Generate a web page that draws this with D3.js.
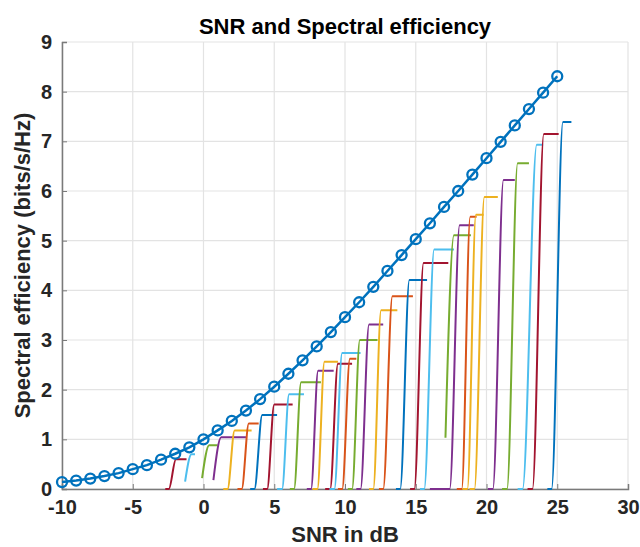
<!DOCTYPE html>
<html>
<head>
  <meta charset="UTF-8">
  <title>SNR and Spectral efficiency</title>
  <style>
  body { margin:0; background:#fff; }
  text { font-family:"Liberation Sans",Arial,sans-serif; font-weight:bold; }
  </style>
</head>
<body>
  <div id="chart"></div>
  <script src="https://d3js.org/d3.v7.min.js"></script>
  <script>
    // Shannon bound, one marker per dB
    var snrDb = [-10,-9,-8,-7,-6,-5,-4,-3,-2,-1,0,1,2,3,4,5,6,7,8,9,10,11,12,13,14,15,16,17,18,19,20,21,22,23,24,25];
    var shannon = [0.14,0.17,0.21,0.26,0.32,0.40,0.48,0.59,0.71,0.84,1.00,1.18,1.37,1.58,1.81,2.06,2.32,2.59,2.87,3.16,
                   3.46,3.76,4.07,4.39,4.71,5.03,5.35,5.68,6.00,6.33,6.66,6.99,7.32,7.65,7.98,8.31];

    // MCS throughput curves: start point, where the rise begins, where it levels off, level and end
    var mcsColor = ["red","lblue","green","purple","yellow","orange","blue","red","lblue","green","purple",
                    "yellow","red","lblue","orange","green","purple","yellow","orange","blue","red","lblue",
                    "green","purple","orange","yellow","yellow","purple","green","lblue","red","blue"];
    var mcsX0    = [-2.7,-1.3,-0.1,0.7,1.4,2.4,3.3,4.2,5.2,6.1,7.3,7.7,8.6,8.9,9.5,10.2,10.8,11.7,12.4,13.6,14.6,15.3,
                    17.1,16.0,17.9,18.3,18.8,20.1,21.1,22.2,22.9,24.3];
    var mcsY0    = [0,0.15,0.22,0.18,0,0,0,0,0,0,0,0,0,0,0,0,0,0,0,0,0,0,1.03,0,0,0,0,0,0,0,0,0];
    var mcsRise  = [-2.45,-1.3,-0.1,0.7,1.7,2.7,3.6,4.5,5.55,6.4,7.6,8.05,8.95,9.25,9.8,10.5,11.1,12.0,12.7,13.9,14.9,15.6,
                    17.1,17.4,18.25,18.65,19.15,20.45,21.45,22.55,23.25,24.6];
    var mcsKnee  = [-1.95,-0.85,0.4,1.25,2.2,3.2,4.15,5.0,6.05,6.9,8.1,8.55,9.5,9.8,10.35,11.05,11.7,12.55,13.35,14.55,15.55,16.3,
                    17.7,18.1,18.85,19.25,19.85,21.2,22.2,23.55,24.05,25.4];
    var mcsLevel = [0.60,0.70,0.88,1.04,1.18,1.32,1.49,1.70,1.91,2.15,2.38,2.56,2.52,2.74,2.62,3.00,3.31,3.60,3.88,4.21,4.55,4.82,
                    5.11,5.31,5.48,5.52,5.88,6.22,6.56,6.93,7.15,7.39];
    var mcsEnd   = [-1.2,-0.6,1.0,3.0,3.4,3.9,5.2,6.3,7.1,8.3,9.2,9.5,10.5,11.1,10.8,12.3,12.7,13.7,14.8,15.8,17.3,17.7,
                    18.9,19.1,19.3,19.8,20.8,22.0,23.0,24.0,25.1,26.0];

    var xTicks = [-10,-5,0,5,10,15,20,25,30];
    var yTicks = [0,1,2,3,4,5,6,7,8,9];

    var palette = {blue:"#0072BD", orange:"#D95319", yellow:"#EDB120", purple:"#7E2F8E",
                   green:"#77AC30", lblue:"#4DBEEE", red:"#A2142F"};

    var svg = d3.select("#chart").append("svg").attr("width", 640).attr("height", 547),
        margin = {top: 42, right: 12, bottom: 58, left: 62},
        width = 640 - margin.left - margin.right,
        height = 547 - margin.top - margin.bottom,
        g = svg.append("g").attr("transform", "translate(" + margin.left + "," + margin.top + ")");

    var x = d3.scaleLinear().domain([-10, 30]).range([0, width]);
    var y = d3.scaleLinear().domain([0, 9]).range([height, 0]);

    // grid
    g.append("g").selectAll("line").data(xTicks).join("line")
        .attr("x1", function(d) { return x(d); }).attr("x2", function(d) { return x(d); })
        .attr("y1", 0).attr("y2", height)
        .attr("stroke", "#e3e3e3").attr("stroke-width", 1.2);
    g.append("g").selectAll("line").data(yTicks).join("line")
        .attr("x1", 0).attr("x2", width)
        .attr("y1", function(d) { return y(d); }).attr("y2", function(d) { return y(d); })
        .attr("stroke", "#e3e3e3").attr("stroke-width", 1.2);

    // axes
    var xAxis = g.append("g")
        .attr("transform", "translate(0," + height + ")")
        .call(d3.axisBottom(x).tickValues(xTicks).tickSize(-5).tickPadding(11));
    var yAxis = g.append("g")
        .call(d3.axisLeft(y).tickValues(yTicks).tickSize(-5).tickPadding(10));
    [xAxis, yAxis].forEach(function(a) {
      a.select(".domain").attr("stroke", "#7a7a7a").attr("stroke-width", 1.5);
      a.selectAll(".tick line").attr("stroke", "#7a7a7a");
      a.selectAll(".tick text").attr("fill", "#262626").style("font-size", "20px")
        .style("font-family", "'Liberation Sans',Arial,sans-serif").style("font-weight", "bold");
    });
    xAxis.selectAll(".tick text").text(function(d) { return d < 0 ? "-" + Math.abs(d) : d; });

    // MCS curves
    var line = d3.line()
        .x(function(d) { return x(d[0]); })
        .y(function(d) { return y(d[1]); })
        .curve(d3.curveMonotoneX);

    var mcs = mcsColor.map(function(c, i) {
      var pts = [];
      if (mcsX0[i] < mcsRise[i]) pts.push([mcsX0[i], mcsY0[i]]);
      pts.push([mcsRise[i], mcsY0[i]]);
      pts.push([mcsKnee[i], mcsLevel[i]]);
      pts.push([mcsEnd[i], mcsLevel[i]]);
      return {color: palette[c], pts: pts};
    });

    g.append("g").selectAll("path").data(mcs).join("path")
        .attr("fill", "none")
        .attr("stroke", function(d) { return d.color; })
        .attr("stroke-width", 2)
        .attr("stroke-linejoin", "round")
        .attr("d", function(d) { return line(d.pts); });

    // Shannon curve
    var shannonPts = snrDb.map(function(s, i) { return [s, shannon[i]]; });
    g.append("path")
        .datum(shannonPts)
        .attr("fill", "none")
        .attr("stroke", palette.blue)
        .attr("stroke-width", 2.5)
        .attr("d", d3.line().x(function(d) { return x(d[0]); }).y(function(d) { return y(d[1]); }));
    g.append("g").selectAll("circle").data(shannonPts).join("circle")
        .attr("cx", function(d) { return x(d[0]); })
        .attr("cy", function(d) { return y(d[1]); })
        .attr("r", 5)
        .attr("fill", "none")
        .attr("stroke", palette.blue)
        .attr("stroke-width", 2.3);

    // titles
    svg.append("text")
        .attr("x", margin.left + width / 2).attr("y", 34)
        .attr("text-anchor", "middle")
        .style("font-size", "22px").attr("fill", "#000")
        .text("SNR and Spectral efficiency");
    svg.append("text")
        .attr("x", margin.left + width / 2).attr("y", 542)
        .attr("text-anchor", "middle")
        .style("font-size", "22px").attr("fill", "#262626")
        .text("SNR in dB");
    svg.append("text")
        .attr("transform", "translate(30," + (margin.top + height / 2) + ") rotate(-90)")
        .attr("text-anchor", "middle")
        .style("font-size", "22px").attr("fill", "#262626")
        .text("Spectral efficiency (bits/s/Hz)");
  </script>
</body>
</html>
